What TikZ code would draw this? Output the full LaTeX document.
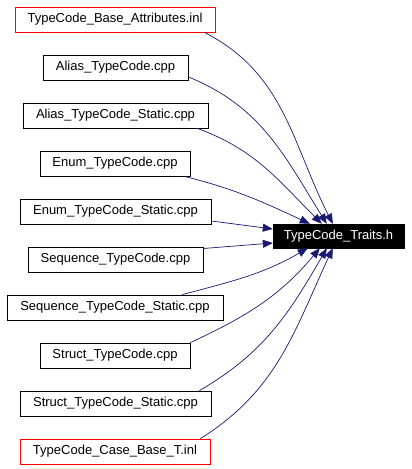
\documentclass[tikz,border=0pt]{standalone}
\usepackage{fontspec}
\setmainfont{Liberation Sans}
\usetikzlibrary{arrows.meta,calc}
\definecolor{edgeblue}{HTML}{191970}
\definecolor{redframe}{HTML}{FF0000}
\tikzset{
  filebox/.style={draw=black,line width=0.8bp,inner sep=0pt,minimum height=25bp,font=\fontsize{13bp}{15bp}\selectfont,fill=white},
  redbox/.style={filebox,draw=redframe},
  mainbox/.style={draw=black,fill=black,text=white,inner sep=0pt,minimum height=24bp,minimum width=131bp,font=\fontsize{13bp}{15bp}\selectfont},
  dep/.style={draw=edgeblue,line width=0.7bp,-{Triangle[length=10bp,width=8bp]},fill=none},
}
\begin{document}
\begin{tikzpicture}[x=1bp,y=1bp]
\path[use as bounding box] (0,0) rectangle (411,-469);
\node[redbox,minimum width=200bp] (b1) at (115,-19.5) {TypeCode\_Base\_Attributes.inl};
\node[filebox,minimum width=145bp] (b2) at (115.5,-67.5) {Alias\_TypeCode.cpp};
\node[filebox,minimum width=185bp] (b3) at (115.5,-115.5) {Alias\_TypeCode\_Static.cpp};
\node[filebox,minimum width=150bp] (b4) at (115,-163.5) {Enum\_TypeCode.cpp};
\node[filebox,minimum width=191bp] (b5) at (115.5,-211.5) {Enum\_TypeCode\_Static.cpp};
\node[filebox,minimum width=175bp] (b6) at (115.5,-259.5) {Sequence\_TypeCode.cpp};
\node[filebox,minimum width=216bp] (b7) at (115,-307.5) {Sequence\_TypeCode\_Static.cpp};
\node[filebox,minimum width=150bp] (b8) at (115,-355.5) {Struct\_TypeCode.cpp};
\node[filebox,minimum width=191bp] (b9) at (115.5,-403.5) {Struct\_TypeCode\_Static.cpp};
\node[redbox,minimum width=190bp] (b10) at (115,-451.5) {TypeCode\_Case\_Base\_T.inl};
\node[mainbox] (t) at (338.5,-236) {TypeCode\_Traits.h};

\draw[dep] ($(b1.south east)+(-11,0)$) to[out=-27,in=117] ($(t.north west)+(60,0)$);
\draw[dep] ($(b2.east)+(0,-9.5)$) to[out=-22,in=122] ($(t.north west)+(54,0)$);
\draw[dep] ($(b3.south east)+(-11,0)$) to[out=-20,in=135] ($(t.north west)+(49,0)$);
\draw[dep] ($(b4.south east)+(-6,0)$) to[out=-14,in=155] ($(t.north west)+(37,0)$);
\draw[dep] ($(b5.east)+(0,-9.5)$) -- ($(t.west)+(0,7)$);
\draw[dep] ($(b6.east)+(0,11)$) -- ($(t.west)+(0,-7)$);
\draw[dep] ($(b7.north east)+(-41,0)$) to[out=15,in=210] ($(t.south west)+(35,0)$);
\draw[dep] ($(b8.north east)+(0,0)$) to[out=25,in=230] ($(t.south west)+(47,0)$);
\draw[dep] ($(b9.north east)+(-12,0)$) to[out=30,in=240] ($(t.south west)+(54,0)$);
\draw[dep] ($(b10.north east)+(-10,0)$) to[out=32,in=245] ($(t.south west)+(60,0)$);
\end{tikzpicture}
\end{document}
